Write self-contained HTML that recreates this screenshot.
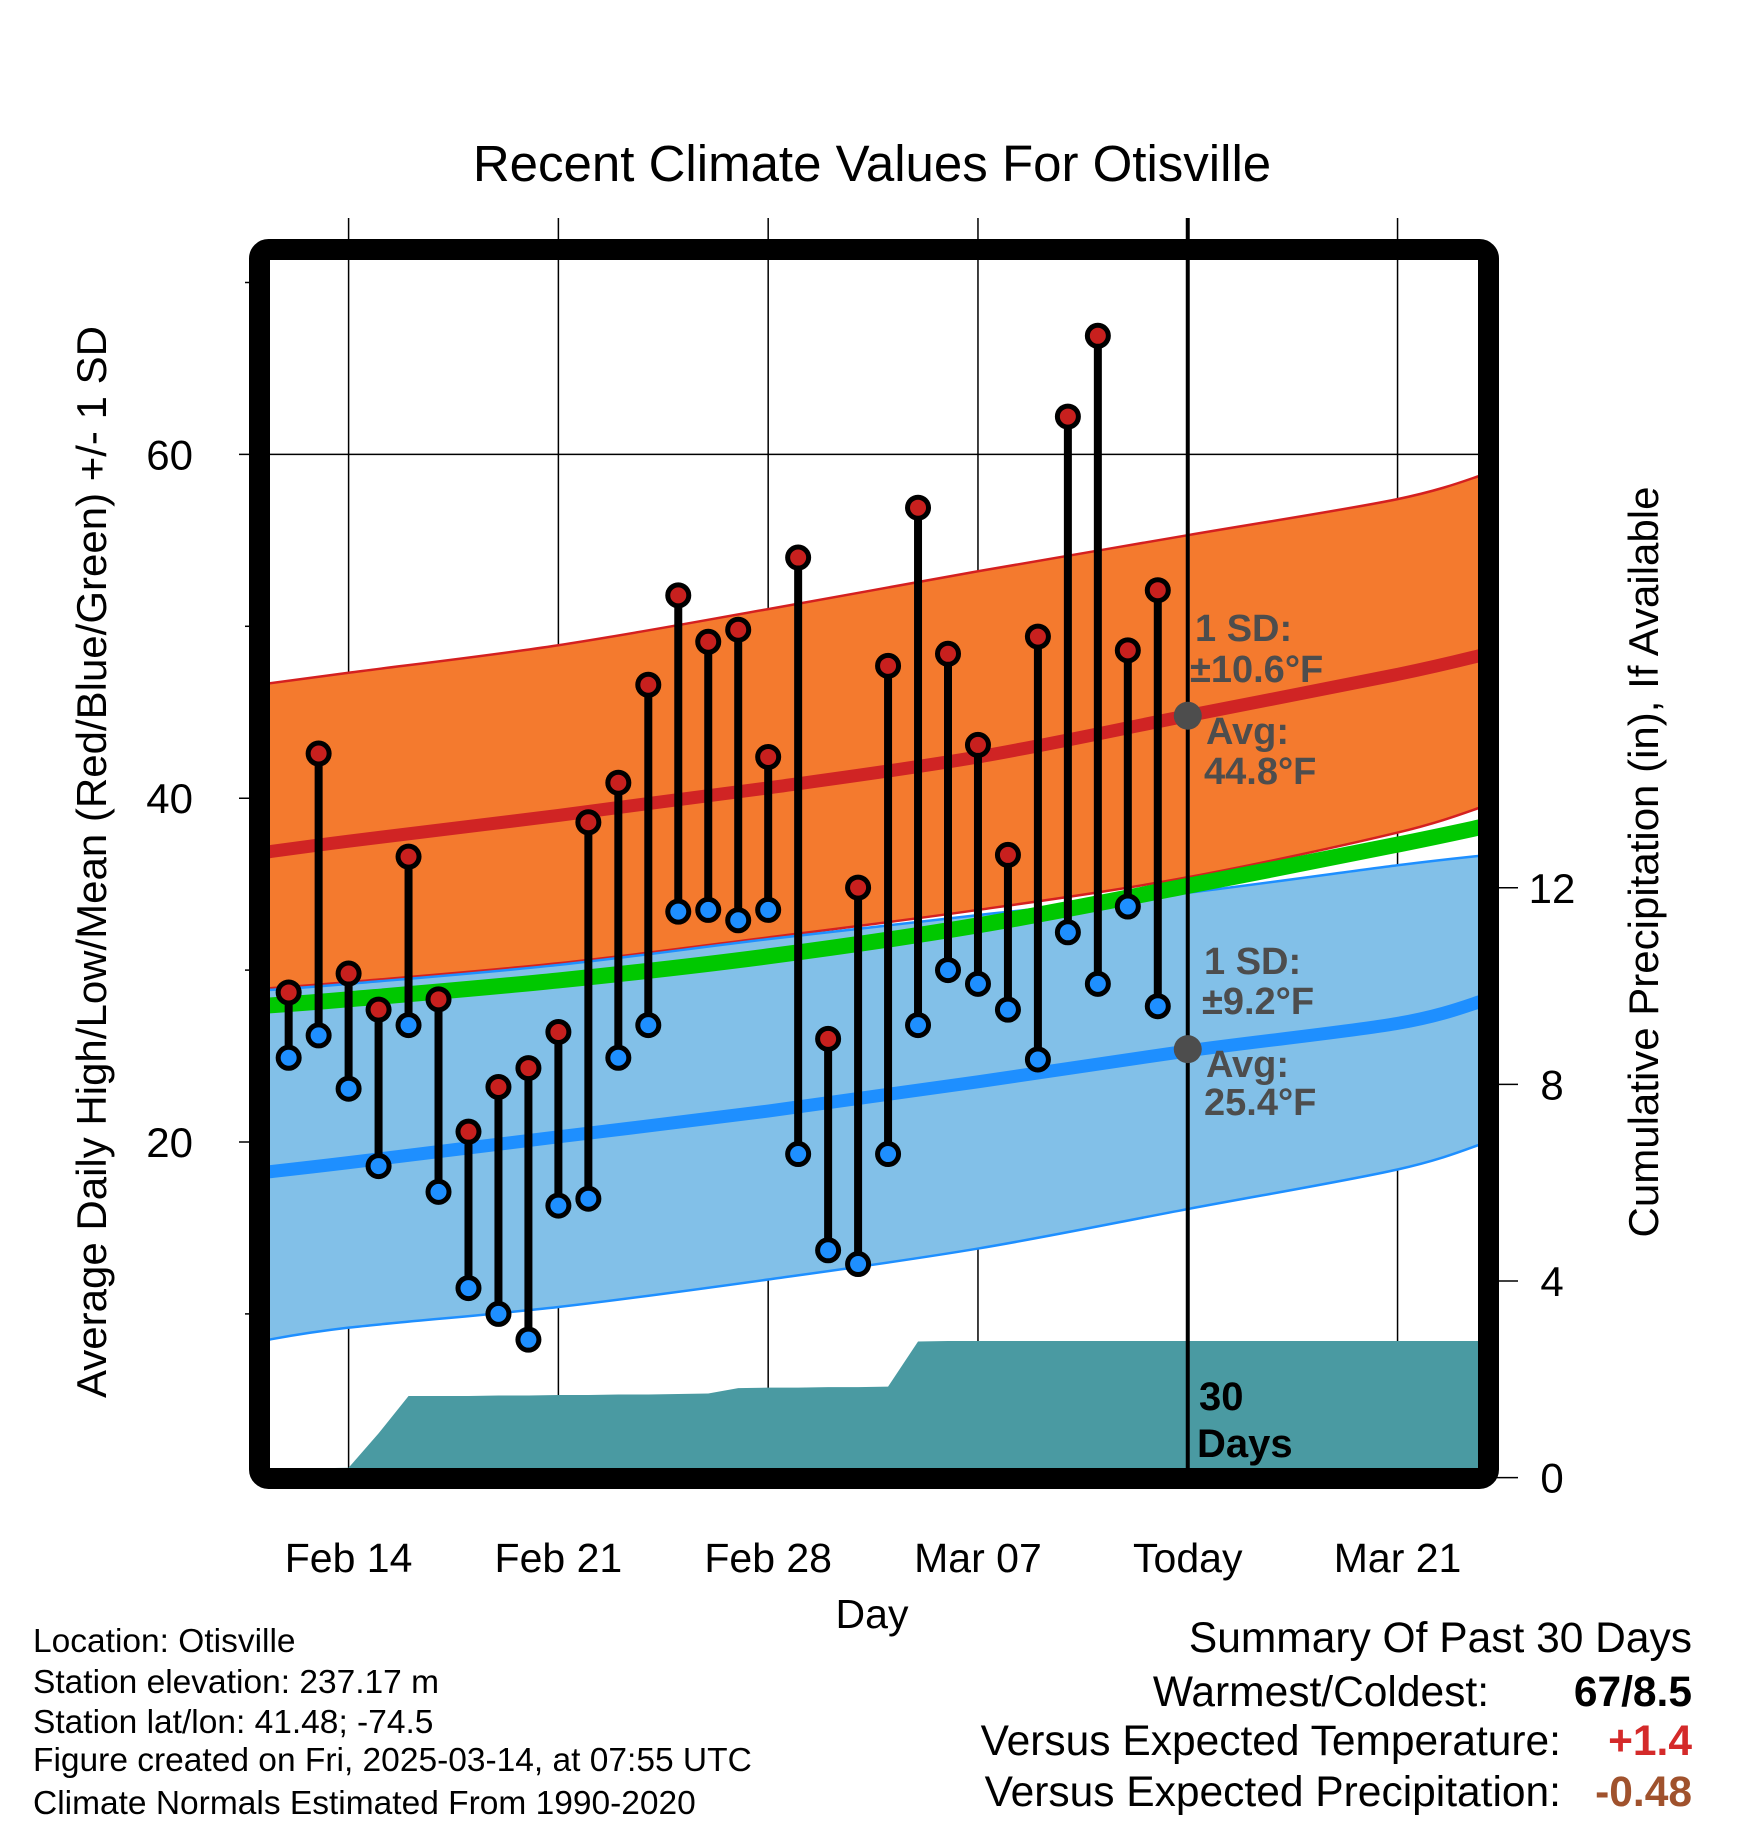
<!DOCTYPE html>
<html><head><meta charset="utf-8">
<style>
html,body{margin:0;padding:0;background:#fff;}
svg{display:block;font-family:"Liberation Sans",Arial,sans-serif;}
</style></head>
<body>
<svg id="chart" width="1748" height="1828" viewBox="0 0 1748 1828" xmlns="http://www.w3.org/2000/svg">
<defs><clipPath id="plotclip"><rect x="270" y="260" width="1208" height="1208"/></clipPath></defs>
<text x="872" y="181" font-size="51" text-anchor="middle">Recent Climate Values For Otisville</text>
<g id="grid"></g>
<g id="bands" clip-path="url(#plotclip)"></g>
<g id="precip" clip-path="url(#plotclip)"></g>
<g id="marks"></g>
<g id="annot"></g>
<rect x="259.5" y="249.5" width="1229" height="1229" rx="9" fill="none" stroke="#000" stroke-width="21"/>
<g id="axes"></g>
<text transform="translate(106,862) rotate(-90)" font-size="42" text-anchor="middle">Average Daily High/Low/Mean (Red/Blue/Green) +/- 1 SD</text>
<text transform="translate(1658,862) rotate(-90)" font-size="42" text-anchor="middle">Cumulative Precipitation (in), If Available</text>
<text x="872" y="1628" font-size="41" text-anchor="middle">Day</text>
<g font-size="33.5">
<text x="33" y="1652">Location: Otisville</text>
<text x="33" y="1693">Station elevation: 237.17 m</text>
<text x="33" y="1733">Station lat/lon: 41.48; -74.5</text>
<text x="33" y="1771">Figure created on Fri, 2025-03-14, at 07:55 UTC</text>
<text x="33" y="1814">Climate Normals Estimated From 1990-2020</text>
</g>
<g font-size="42.5">
<text x="1692" y="1652" text-anchor="end">Summary Of Past 30 Days</text>
<text x="1489" y="1706" text-anchor="end">Warmest/Coldest:</text>
<text x="1692" y="1706" text-anchor="end" font-weight="bold">67/8.5</text>
<text x="1561" y="1755" text-anchor="end">Versus Expected Temperature:</text>
<text x="1692" y="1755" text-anchor="end" font-weight="bold" fill="#d42a2a">+1.4</text>
<text x="1561" y="1806" text-anchor="end">Versus Expected Precipitation:</text>
<text x="1692" y="1806" text-anchor="end" font-weight="bold" fill="#a0522d">-0.48</text>
</g>
</svg>
<script>
// ---- data ----
const dayOffsets = [-2,-1,0,1,2,3,4,5,6,7,8,9,10,11,12,13,14,15,16,17,18,19,20,21,22,23,24,25,26,27]; // days from Feb 14
const highs = [28.7,42.6,29.8,27.7,36.6,28.3,20.6,23.2,24.3,26.4,38.6,40.9,46.6,51.8,49.1,49.8,42.4,54.0,26.0,34.8,47.7,56.9,48.4,43.1,36.7,49.4,62.2,66.9,48.6,52.1];
const lows = [24.9,26.2,23.1,18.6,26.8,17.1,11.5,10.0,8.5,16.3,16.7,24.9,26.8,33.4,33.5,32.9,33.5,19.3,13.7,12.9,19.3,26.8,30.0,29.2,27.7,24.8,32.2,29.2,33.7,27.9];
const precip = [0.18,0.19,0.2,0.9,1.66,1.66,1.66,1.67,1.67,1.68,1.68,1.69,1.69,1.70,1.71,1.82,1.83,1.83,1.84,1.84,1.85,2.77,2.78,2.78,2.78,2.78,2.78,2.78,2.78,2.78];
const normalDays = [-3,0,7,14,21,28,35,38];
const hiUpper = [46.6,47.3,48.9,51.0,53.2,55.3,57.4,58.9];
const hiMean = [36.8,37.5,39.0,40.6,42.4,44.8,47.2,48.4];
const hiLower = [28.9,29.3,30.4,31.9,33.5,35.4,38.0,39.6];
const meanT = [27.9,28.3,29.4,30.8,32.6,34.9,37.3,38.4];
const loUpper = [28.8,29.2,30.3,31.8,33.2,34.5,36.1,36.7];
const loMean = [18.2,18.8,20.3,21.8,23.5,25.3,26.9,28.3];
const loLower = [8.4,9.2,10.4,12.0,13.8,16.1,18.4,20.0];
const xTickDays = [0,7,14,21,28,35];
const xTickLabels = ["Feb 14","Feb 21","Feb 28","Mar 07","Today","Mar 21"];
const yTicks = [20,40,60];
const yMinorTicks = [10,30,50,70];
const y2Ticks = [0,4,8,12];
const todayDay = 28;
const todayHiAvg = 44.8, todayLoAvg = 25.4;

// ---- scales ----
const X = d => 348.6 + d*29.97;
const Y = t => 798.2 - (t-40)*17.19;
const P = p => 1477.6 - p*49.15;
const NS = "http://www.w3.org/2000/svg";
function mk(tag, attrs, parent){const e=document.createElementNS(NS,tag);for(const k in attrs)e.setAttribute(k,attrs[k]);parent.appendChild(e);return e;}
function pts(days, vals){return days.map((d,i)=>[X(d),Y(vals[i])]);}
function smooth(p){let s=`M${p[0][0]},${p[0][1]}`;for(let i=0;i<p.length-1;i++){const p0=p[Math.max(i-1,0)],p1=p[i],p2=p[i+1],p3=p[Math.min(i+2,p.length-1)];
const c1=[p1[0]+(p2[0]-p0[0])/6,p1[1]+(p2[1]-p0[1])/6],c2=[p2[0]-(p3[0]-p1[0])/6,p2[1]-(p3[1]-p1[1])/6];s+=` C${c1[0]},${c1[1]} ${c2[0]},${c2[1]} ${p2[0]},${p2[1]}`;}return s;}
function band(up, lo){const a=pts(normalDays,up), b=pts(normalDays,lo).reverse();return smooth(a)+" L"+smooth(b).slice(1)+" Z";}

const grid=document.getElementById('grid'),bands=document.getElementById('bands'),pr=document.getElementById('precip'),marks=document.getElementById('marks'),annot=document.getElementById('annot'),axes=document.getElementById('axes');

// grid
xTickDays.forEach((d,i)=>{const l=mk('line',{x1:X(d),x2:X(d),y1:218,y2:1468,stroke:'#000','stroke-width':1.5},grid);

});
yTicks.forEach(t=>{const l=mk('line',{x1:239,x2:1478,y1:Y(t),y2:Y(t),stroke:'#000','stroke-width':1.5},grid);

});

// bands
let e;
e=mk('path',{d:band(hiUpper,hiLower),fill:'#f47a2e',stroke:'#d42020','stroke-width':2.5},bands);


e=mk('path',{d:band(loUpper,loLower),fill:'#82c0e8',stroke:'#1e8fff','stroke-width':2.5},bands);


e=mk('path',{d:smooth(pts(normalDays,meanT)),fill:'none',stroke:'#00c800','stroke-width':16},bands);


e=mk('path',{d:smooth(pts(normalDays,hiMean)),fill:'none',stroke:'#d02424','stroke-width':13},bands);


e=mk('path',{d:smooth(pts(normalDays,loMean)),fill:'none',stroke:'#1e8fff','stroke-width':13},bands);



// precip area
let pd=`M${X(-3)},${P(0)} L${X(-3)},${P(precip[0])}`;
dayOffsets.forEach((d,i)=>{pd+=` L${X(d)},${P(precip[i])}`;});
pd+=` L${X(38)},${P(precip[precip.length-1])} L${X(38)},${P(0)} Z`;
e=mk('path',{d:pd,fill:'#4a9aa2'},pr);



// today line
e=mk('line',{x1:X(todayDay),x2:X(todayDay),y1:218,y2:1468,stroke:'#000','stroke-width':4},marks);



// daily marks
dayOffsets.forEach((d,i)=>{
 const x=X(d);
 const s=mk('line',{x1:x,x2:x,y1:Y(highs[i]),y2:Y(lows[i]),stroke:'#000','stroke-width':8},marks);
 
 
 const h=mk('circle',{cx:x,cy:Y(highs[i]),r:10.5,fill:'#c8201e',stroke:'#000','stroke-width':5},marks);
 
 
 const l=mk('circle',{cx:x,cy:Y(lows[i]),r:10.5,fill:'#1e8fff',stroke:'#000','stroke-width':5},marks);
 
 
});

// today avg dots
e=mk('circle',{cx:X(todayDay),cy:Y(todayHiAvg),r:14,fill:'#4d4d4d'},annot);


e=mk('circle',{cx:X(todayDay),cy:Y(todayLoAvg),r:14,fill:'#4d4d4d'},annot);



const notes=[["1 SD:",1195,641],["±10.6°F",1190,682],["Avg:",1206,744],["44.8°F",1204,784],["1 SD:",1204,974],["±9.2°F",1202,1014],["Avg:",1206,1077],["25.4°F",1204,1115]];
notes.forEach(n=>{const t=mk('text',{x:n[1],y:n[2],'font-size':38,'font-weight':'bold',fill:'#4d4d4d'},annot);t.textContent=n[0];

});
[["30",1199,1410],["Days",1197,1457]].forEach(n=>{const t=mk('text',{x:n[1],y:n[2],'font-size':40,'font-weight':'bold',fill:'#000'},annot);t.textContent=n[0];

});

// axes ticks & labels
xTickDays.forEach((d,i)=>{const t=mk('text',{x:X(d),y:1572,'font-size':41,'text-anchor':'middle'},axes);t.textContent=xTickLabels[i];

});
yTicks.forEach(v=>{const t=mk('text',{x:193,y:Y(v)+15,'font-size':42,'text-anchor':'end'},axes);t.textContent=v;

});
yMinorTicks.forEach(v=>{const l=mk('line',{x1:245,x2:259,y1:Y(v),y2:Y(v),stroke:'#000','stroke-width':1.5},axes);

});
y2Ticks.forEach(v=>{const l=mk('line',{x1:1488,x2:1518,y1:P(v),y2:P(v),stroke:'#000','stroke-width':1.5},axes);


const t=mk('text',{x:1552,y:P(v)+15,'font-size':42,'text-anchor':'middle'},axes);t.textContent=v;

});
</script>
</body></html>
